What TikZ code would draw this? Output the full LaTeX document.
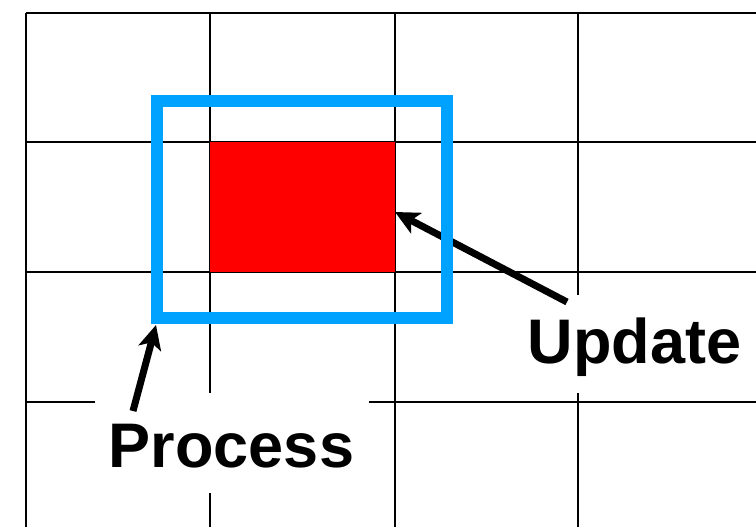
\documentclass[tikz,border=0pt]{standalone}
\usepackage{fontspec}
\setmainfont{Liberation Sans}
\usetikzlibrary{arrows.meta}
\definecolor{boxblue}{RGB}{0,162,255}
\tikzset{
  gridline/.style={line width=2.4pt, black},
  labelbox/.style={fill=white, draw=none, inner sep=0pt},
  labeltext/.style={font=\fontsize{63}{63}\selectfont\bfseries, inner sep=0pt},
  pointer/.style={line width=7pt, -{Stealth[length=24pt,width=23pt,inset=6pt]}},
  procbox/.style={draw=boxblue, line width=11.7pt, inner sep=0pt},
  updcell/.style={fill=red, draw=none, inner sep=0pt}
}
\begin{document}
\begin{tikzpicture}[x=1pt,y=-1pt]
\useasboundingbox (0,0) rectangle (756,527);
% grid
\foreach \yy in {13,142,272,402} \draw[gridline] (26,\yy) -- (756,\yy);
\foreach \xx in {26,210,395,578} \draw[gridline] (\xx,13) -- (\xx,527);
% label backgrounds and texts
\node[labelbox, minimum width=274pt, minimum height=100pt] (pbox) at (232,443) {};
\node[labelbox, minimum width=243pt, minimum height=98pt] (ubox) at (634.5,344) {};
\node[labeltext, anchor=base] (ptext) at (231.5,467) {Process};
\node[labeltext, anchor=base] (utext) at (634.5,363) {Update};
% arrow endpoints
\coordinate (ptail) at (133,411);
\coordinate (ptip) at (156,325);
\coordinate (utail) at (567,302);
\coordinate (utip) at (395,212);
\draw[pointer] (ptail) -- (ptip);
\draw[pointer] (utail) -- (utip);
% process region and update cell
\node[procbox, minimum width=290pt, minimum height=217pt] (proc) at (302,209.5) {};
\node[updcell, minimum width=185pt, minimum height=130pt] (upd) at (302.5,207) {};
\end{tikzpicture}
\end{document}
